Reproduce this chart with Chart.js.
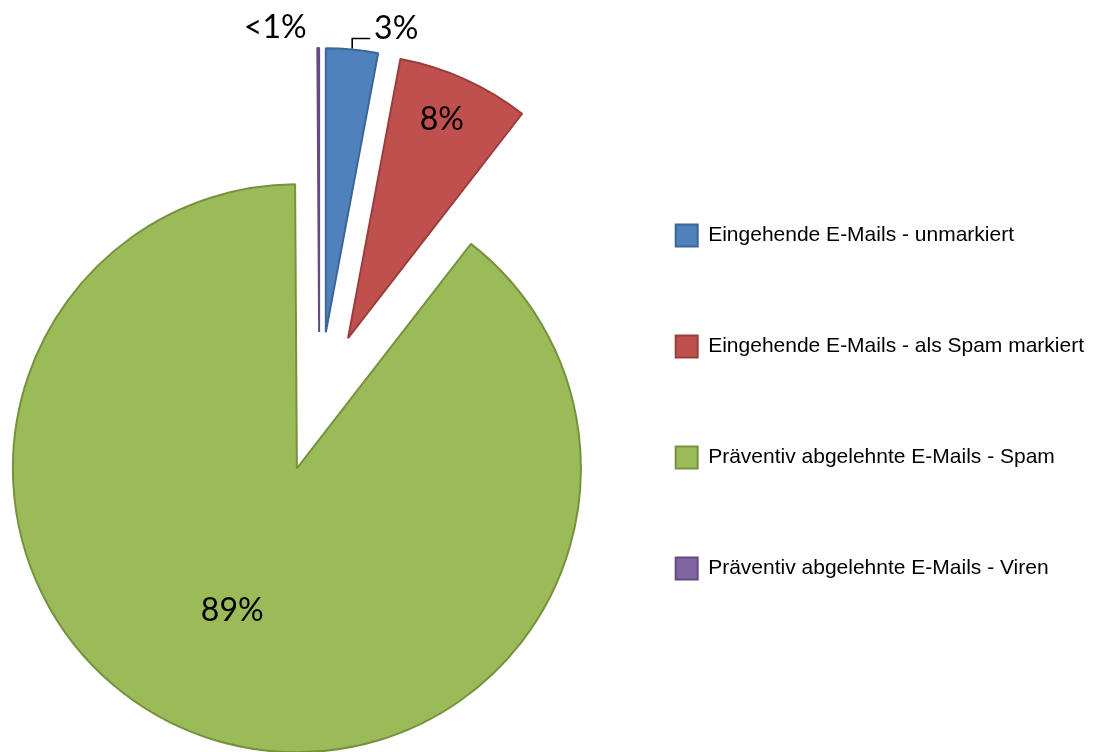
<!DOCTYPE html>
<html>
<head>
<meta charset="utf-8">
<title>E-Mails</title>
<script src="https://cdn.jsdelivr.net/npm/chart.js@4/dist/chart.umd.min.js"></script>
<style>
  html, body { margin: 0; padding: 0; background: #fff; overflow: hidden; }
  #wrap { width: 1098px; height: 752px; position: relative; }
</style>
</head>
<body>
<div id="wrap"><canvas id="pie" width="1098" height="752"></canvas></div>
<script>
// data
const categories = [
  'Eingehende E-Mails - unmarkiert',
  'Eingehende E-Mails - als Spam markiert',
  'Präventiv abgelehnte E-Mails - Spam',
  'Präventiv abgelehnte E-Mails - Viren'
];
const shares = [2.95, 7.55, 89.4, 0.1];
const shareLabels = ['3%', '8%', '89%', '<1%'];

// styles
const fillColors = ['#4F81BD', '#C0504D', '#9BBB59', '#8064A2'];
const edgeColors = ['#3C6696', '#983E3B', '#76923F', '#624C80'];
const EXPLODE = 70;      // every slice is pulled out along its bisector
const labelFont = '32px Lato, "Open Sans", sans-serif';
// inside: fraction of radius from the slice tip; outside: from the rim point. then nudged by dx/dy
const labelPlace = [
  { dx: 44, dy: -20, leader: true },
  { inside: 0.84, dx: -4, dy: -1 },
  { inside: 0.545, dx: -15, dy: -4 },
  { dx: -43, dy: -19 }
];

function arcDir(arc) {
  const mid = (arc.startAngle + arc.endAngle) / 2;
  return { c: Math.cos(mid), s: Math.sin(mid) };
}

const explodePlugin = {
  id: 'explode',
  afterUpdate(chart) {
    chart.getDatasetMeta(0).data.forEach(function (arc) {
      if (arc._exploded) return;
      const base = arc.draw;
      arc.draw = function (ctx, area) {
        const d = arcDir(this);
        ctx.save();
        ctx.translate(d.c * EXPLODE, d.s * EXPLODE);
        base.call(this, ctx, area);
        ctx.restore();
      };
      arc._exploded = true;
    });
  }
};

const labelPlugin = {
  id: 'sliceLabels',
  afterDatasetsDraw(chart) {
    const ctx = chart.ctx;
    const arcs = chart.getDatasetMeta(0).data;
    ctx.save();
    ctx.font = labelFont;
    ctx.fillStyle = '#000';
    ctx.textAlign = 'center';
    ctx.textBaseline = 'middle';
    arcs.forEach(function (arc, i) {
      const d = arcDir(arc);
      const tipX = arc.x + d.c * EXPLODE, tipY = arc.y + d.s * EXPLODE;
      const p = labelPlace[i];
      let x, y;
      if (p.inside) {
        x = tipX + d.c * arc.outerRadius * p.inside + p.dx;
        y = tipY + d.s * arc.outerRadius * p.inside + p.dy;
      } else {
        const rimX = tipX + d.c * (arc.outerRadius + 1);
        const rimY = tipY + d.s * (arc.outerRadius + 1);
        x = rimX + p.dx;
        y = rimY + p.dy;
        if (p.leader) {
          ctx.beginPath();
          ctx.strokeStyle = '#000';
          ctx.lineWidth = 1.6;
          ctx.moveTo(rimX, rimY);
          ctx.lineTo(rimX, rimY - 10);
          ctx.lineTo(rimX + 18, rimY - 10);
          ctx.stroke();
        }
      }
      ctx.fillText(shareLabels[i], x, y);
    });
    ctx.restore();
  }
};

new Chart(document.getElementById('pie'), {
  type: 'pie',
  data: {
    labels: categories,
    datasets: [{
      data: shares,
      backgroundColor: fillColors,
      borderColor: edgeColors,
      borderWidth: 2,
      hoverOffset: 0,
      clip: false
    }]
  },
  options: {
    responsive: false,
    animation: false,
    events: [],
    radius: 284,
    rotation: 0,
    layout: { padding: { left: 52, right: 4, top: 52, bottom: 0 } },
    plugins: {
      tooltip: { enabled: false },
      legend: {
        position: 'right',
        align: 'center',
        labels: {
          boxWidth: 22,
          boxHeight: 22,
          padding: 89,
          color: '#000',
          font: { family: '"Liberation Sans", Arial, sans-serif', size: 21 }
        }
      }
    }
  },
  plugins: [explodePlugin, labelPlugin]
});
</script>
</body>
</html>
